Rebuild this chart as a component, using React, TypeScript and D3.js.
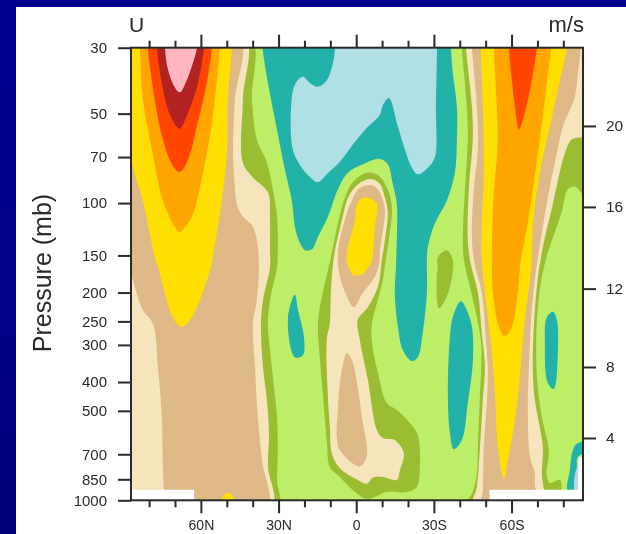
import React, { useEffect, useRef } from 'react';
import * as d3 from 'd3';

type Ring = [number, number][];

// axis values
const pressureTicks = [30, 50, 70, 100, 150, 200, 250, 300, 400, 500, 700, 850, 1000];
const latMajor = [60, 30, 0, -30, -60];
const latMinor = [80, 70, 50, 40, 20, 10, -10, -20, -40, -50, -70, -80];
const heightTicks = [4, 8, 12, 16, 20];
const heightPressure = [617, 356, 194, 103, 55]; // pressure level of each height tick

// contour regions, [latitude, pressure], lat > 0 is north.
const leftOlive: Ring = [[90, 27], [41.2, 27], [40.3, 45], [38.4, 61], [34.5, 73], [32.2, 90], [30.6, 111], [30.3, 144], [30.6, 164], [33.3, 212], [34.1, 255], [32.6, 356], [30.6, 525], [30.3, 678], [30.6, 854], [30.3, 1055], [90, 1055]];
const leftWheat: Ring = [[90, 27], [43.4, 27], [43.8, 45], [43.8, 73], [39.9, 82], [34.1, 92], [33.3, 111], [33.3, 144], [33.3, 164], [36, 212], [36.8, 255], [36, 356], [34.5, 460], [33.7, 600], [34.1, 773], [32.6, 1055], [90, 1055]];
const leftBurly: Ring = [[90, 27], [45.3, 27], [46.9, 45], [47.6, 66], [46.9, 88], [46.1, 101], [43.8, 111], [39.9, 120], [38, 140], [37.6, 164], [38.4, 212], [39.9, 255], [39.1, 356], [38, 525], [36.4, 733], [34.5, 1055], [74.3, 1055], [74.3, 923], [74.7, 773], [75.1, 525], [76.6, 356], [78.5, 255], [82.4, 229], [86.3, 181], [88.2, 155], [90, 133]];
const leftGold: Ring = [[90, 27], [88.5, 50], [86.3, 75], [82.4, 98], [77.8, 152], [76.6, 164], [70.8, 242], [67.5, 261], [63.5, 242], [56.1, 164], [55.4, 152], [51.9, 98], [49.9, 66], [49.6, 45], [48, 30], [48, 27]];
const leftOrange: Ring = [[84, 27], [83.6, 30], [82.4, 45], [78.9, 66], [74.7, 98], [69.3, 123], [68.1, 125], [63.5, 111], [59.2, 79], [55.4, 51], [52.7, 30], [52.5, 27]];
const leftRed: Ring = [[80.7, 27], [80.5, 30], [77.8, 45], [74.7, 61], [70.8, 75], [68.1, 78.6], [65, 71.5], [61.2, 53.6], [57.7, 39.4], [55.8, 30], [55.6, 27]];
const leftBrick: Ring = [[77.2, 27], [77, 30], [75.1, 39.4], [72.7, 48.5], [69.3, 55.3], [68.1, 56.2], [65, 49.7], [61.5, 40.6], [58.8, 30], [58.7, 27]];
const leftPink: Ring = [[74, 27], [73.9, 30], [72.7, 35.6], [70, 40.9], [68.1, 42.4], [65.4, 38.5], [63.1, 33.8], [61.5, 30], [61.4, 27]];
const surfaceGold: Ring = [[51.9, 1055], [51.9, 990], [49.9, 945], [48, 960], [46.9, 1055]];

const topTeal: Ring = [[36.4, 27], [36.2, 30], [34.1, 39.4], [30.6, 56.7], [27.6, 77], [24.9, 98], [23.7, 120], [21.8, 136], [19.8, 144], [17.1, 143], [14.8, 130], [10.9, 111], [7.1, 90], [3.2, 79], [-2.6, 74], [-9.1, 71], [-12.2, 74], [-14.1, 86], [-15.7, 101], [-15.7, 130], [-15.3, 168], [-14.9, 200], [-16.1, 261], [-18, 312], [-21.5, 340], [-23.8, 330], [-25.7, 273], [-27.3, 200], [-27.3, 155], [-27.7, 140], [-30.4, 117], [-35, 98], [-38.1, 79], [-38.9, 61], [-38.9, 47.4], [-37.3, 36.5], [-36.6, 30], [-36.4, 27]];
const topBlue: Ring = [[8.2, 27], [-31.2, 27], [-31.2, 30], [-30.8, 47.4], [-30.4, 70], [-27.7, 76], [-23.8, 80], [-21.5, 76], [-18.8, 66], [-16.1, 55.3], [-12.6, 44.3], [-10.3, 46.8], [-9.1, 50.5], [-4.1, 55.8], [1.3, 63.5], [6.3, 72.6], [10.9, 79.2], [14.8, 85], [17.9, 81.7], [21.8, 74.3], [24.5, 66], [25.2, 48.5], [23.7, 40], [20.6, 37.6], [17.9, 39.4], [14.8, 40.6], [11.3, 38.5], [9, 33.8], [8.2, 30]];

const centerOlive: Ring = [[10.9, 168], [9.4, 147], [7.1, 117], [4.4, 96], [1.3, 85], [-4.1, 79], [-8.4, 80.4], [-12.2, 90], [-13.8, 104], [-12.6, 133], [-11.4, 155], [-10.3, 181], [-8, 217], [-6.1, 253], [-6.1, 296], [-8.4, 373], [-11.8, 471], [-15.7, 497], [-20.7, 549], [-23.8, 603], [-24.6, 773], [-23.4, 902], [-19.6, 938], [-11.8, 938], [-4.1, 990], [1.3, 923], [6.3, 835], [10.2, 773], [11.3, 642], [12.9, 436], [14, 337], [14.8, 253], [12.9, 200]];
const centerWheat: Ring = [[8.2, 144], [5.5, 114], [3.2, 96], [-0.3, 87], [-5.3, 83], [-9.1, 86], [-11.1, 96], [-12.2, 107], [-11.1, 133], [-9.9, 155], [-8.4, 191], [-4.5, 224], [-0.6, 247], [-1.4, 289], [-4.5, 394], [-8, 580], [-10.3, 617], [-14.9, 627], [-18.4, 694], [-16.9, 791], [-15.7, 854], [-10.3, 835], [-6.4, 840], [-4.1, 880], [-0.6, 854], [6.3, 780], [9.4, 694], [10.2, 567], [11, 436], [11.4, 289], [10.2, 253], [9.8, 200], [9, 161]];
const centerBurly: Ring = [[7.1, 147], [4.4, 114], [1.7, 98], [-1.4, 89], [-6.1, 87], [-8.4, 90], [-10.3, 98], [-11.1, 107], [-9.1, 147], [-9.1, 155], [-7.2, 177], [-2.6, 200], [0.9, 224], [3.6, 206], [6.3, 177]];
const centerGold: Ring = [[3.6, 147], [0.5, 114], [-0.3, 101], [-2.6, 96], [-6.1, 97], [-8, 101], [-7.2, 120], [-6.1, 155], [-5.3, 161], [-2.2, 174], [1.3, 174], [3.6, 157]];
const lowerBurly: Ring = [[3.6, 320], [6.3, 403], [7.1, 497], [7.5, 612], [6.3, 678], [-1.4, 769], [-4.1, 705], [-2.2, 525], [-0.3, 403], [1.7, 337]];

const tealNorth: Ring = [[23.7, 203], [26.4, 245], [23.7, 330], [20.6, 325], [20.2, 282], [22.5, 229]];
const oliveSouth: Ring = [[-35, 144], [-31.5, 152], [-31.5, 168], [-31.2, 172], [-31.9, 226], [-35, 206], [-37, 177], [-37.3, 155]];
const tealSouth: Ring = [[-40.4, 214], [-37.3, 242], [-36.2, 282], [-35.4, 436], [-36.2, 594], [-37.7, 673], [-40.8, 627], [-43.1, 471], [-45.1, 337], [-44.7, 261], [-42.7, 229]];
const tealFarSouth: Ring = [[-76, 232], [-73.6, 242], [-72.9, 296], [-74, 403], [-76.3, 422], [-77.9, 320], [-77.5, 247]];

const rightOlive: Ring = [[-40.6, 27], [-40.8, 30], [-42.7, 47.4], [-43.1, 61], [-42, 90], [-41.2, 130], [-41.6, 155], [-43.9, 191], [-46.6, 242], [-48.3, 296], [-48.3, 356], [-47.7, 460], [-47, 662], [-46.6, 809], [-45, 938], [-42, 1055], [-79.4, 1055], [-79.4, 923], [-78.7, 854], [-74.8, 874], [-73.6, 820], [-74.4, 678], [-71.7, 525], [-69.8, 385], [-69.8, 247], [-71.3, 186], [-73.2, 155], [-74.8, 140], [-79.4, 107], [-81.7, 90], [-84.4, 88], [-86.8, 92], [-90.2, 103], [-90.2, 27]];
const rightWheat: Ring = [[-42.2, 27], [-42.4, 30], [-44.7, 47.4], [-45, 61], [-43.5, 90], [-43.1, 133], [-44.3, 161], [-47, 200], [-48.5, 273], [-49.7, 356], [-48.9, 460], [-47.8, 662], [-46.6, 902], [-45, 1055], [-71.7, 1055], [-71.7, 809], [-72.1, 662], [-70.9, 567], [-69, 460], [-68.2, 356], [-69, 229], [-70.1, 181], [-70.9, 161], [-72.9, 130], [-75.6, 104], [-77.9, 84], [-80.6, 68], [-83.3, 61], [-87.1, 60], [-90.2, 59], [-90.2, 27]];
const rightBurly: Ring = [[-44.5, 27], [-44.7, 30], [-46.6, 47.4], [-47, 66], [-45.4, 90], [-44.7, 133], [-45.8, 161], [-48.5, 200], [-50, 282], [-50.8, 356], [-50.5, 460], [-49.3, 662], [-48.9, 923], [-48.5, 1055], [-69, 1055], [-69, 874], [-69, 809], [-67.1, 716], [-66.3, 471], [-66.7, 356], [-67.8, 229], [-69, 181], [-69.8, 161], [-72.1, 120], [-74.8, 88], [-77.5, 68], [-79.8, 55.3], [-84.4, 44], [-85.6, 36.5], [-86.8, 30], [-87, 27]];
const rightGold: Ring = [[-48, 27], [-48.1, 30], [-48.9, 47.4], [-49.3, 79], [-48.5, 116], [-48.5, 155], [-50.5, 229], [-52.4, 320], [-53.6, 436], [-54.7, 662], [-57, 847], [-58.6, 733], [-61.3, 537], [-63.2, 385], [-64.8, 261], [-67.1, 181], [-67.8, 155], [-68.2, 120], [-70.9, 79], [-74.8, 55.3], [-78.7, 38.5], [-81.4, 30], [-81.5, 27]];
const rightOrange: Ring = [[-53.1, 27], [-53.2, 30], [-54.3, 47.4], [-54.7, 61], [-52.8, 104], [-52.4, 168], [-52.8, 200], [-54.7, 253], [-57.4, 280], [-60.1, 261], [-62.4, 200], [-63.6, 155], [-66.3, 116], [-70.9, 61], [-73.6, 39.4], [-75.2, 30], [-75.3, 27]];
const rightRed: Ring = [[-58.9, 27], [-59, 30], [-60.1, 38.5], [-62, 52.4], [-62.8, 56.7], [-65.1, 49.7], [-67.8, 38.5], [-69.8, 30], [-69.9, 27]];

const cornerTeal: Ring = [[-90.2, 640], [-85.6, 642], [-83.7, 678], [-82.5, 791], [-81.7, 923], [-84.4, 923], [-85.2, 791], [-85.6, 716], [-88, 694], [-90.2, 690]];
const cornerBlue: Ring = [[-85.2, 780], [-84.4, 923], [-85.9, 923], [-86, 780]];

// no data below the ground
const missingLeft: Ring = [[90, 921], [62.6, 921], [62.6, 1055], [90, 1055]];
const missingRight: Ring = [[-51.5, 921], [-85.6, 921], [-85.8, 716], [-90.2, 716], [-90.2, 1055], [-51.5, 1055]];

const colors = {
  green: '#bcee68', olive: '#9abd32', wheat: '#f5e4bc', burly: '#deb887', gold: '#ffdf00',
  orange: '#ffa500', red: '#ff4500', brick: '#b22222', pink: '#ffb6c1', teal: '#20b2aa', blue: '#b0e0e6',
};

const layers: [Ring, string][] = [
  [leftOlive, colors.olive], [leftWheat, colors.wheat], [leftBurly, colors.burly], [leftGold, colors.gold],
  [leftOrange, colors.orange], [leftRed, colors.red], [leftBrick, colors.brick], [leftPink, colors.pink],
  [surfaceGold, colors.gold],
  [topTeal, colors.teal], [topBlue, colors.blue],
  [centerOlive, colors.olive], [centerWheat, colors.wheat], [centerBurly, colors.burly], [centerGold, colors.gold], [lowerBurly, colors.burly],
  [tealNorth, colors.teal], [oliveSouth, colors.olive], [tealSouth, colors.teal], [tealFarSouth, colors.teal],
  [rightOlive, colors.olive], [rightWheat, colors.wheat], [rightBurly, colors.burly], [rightGold, colors.gold],
  [rightOrange, colors.orange], [rightRed, colors.red], [cornerTeal, colors.teal], [cornerBlue, '#b4d4f0'],
];

const App = () => {
  const svgRef = useRef<SVGSVGElement>(null);

  useEffect(() => {
    const root = d3.select(svgRef.current);
    root.selectAll('*').remove();

    const width = 626;
    const height = 534;
    const margin = { top: 47.7, right: 43, bottom: 33.7, left: 131 };
    const right = width - margin.right;
    const bottom = height - margin.bottom;

    const x = d3.scaleLinear().domain([87, -87.6]).range([margin.left, right]);
    const y = d3.scaleLog().domain([30, 1000]).range([margin.top, bottom]);
    const yHeight = d3.scaleLinear().domain(heightTicks).range(heightPressure.map(p => y(p)));

    const defs = root.append('defs');
    const grad = defs.append('linearGradient').attr('id', 'slide').attr('x1', 0).attr('y1', 0).attr('x2', 0).attr('y2', 1);
    grad.append('stop').attr('offset', '0%').attr('stop-color', '#00008f');
    grad.append('stop').attr('offset', '100%').attr('stop-color', '#00007c');
    defs.append('clipPath').attr('id', 'plot').append('rect')
      .attr('x', margin.left).attr('y', margin.top)
      .attr('width', right - margin.left).attr('height', bottom - margin.top);
    defs.append('filter').attr('id', 'soft').append('feGaussianBlur').attr('stdDeviation', 0.7);

    // slide background and the white panel
    root.append('rect').attr('width', width).attr('height', height).attr('fill', 'url(#slide)');
    root.append('rect').attr('x', 16).attr('y', 7).attr('width', width - 16).attr('height', height - 7).attr('fill', '#fff');

    const chart = root.append('g').attr('filter', 'url(#soft)');
    const plot = chart.append('g').attr('clip-path', 'url(#plot)');

    plot.append('rect').attr('x', margin.left).attr('y', margin.top)
      .attr('width', right - margin.left).attr('height', bottom - margin.top).attr('fill', colors.green);

    const smooth = d3.line<[number, number]>()
      .x(d => x(d[0])).y(d => y(d[1]))
      .curve(d3.curveCatmullRomClosed.alpha(0.5));
    const straight = d3.line<[number, number]>()
      .x(d => x(d[0])).y(d => y(d[1]))
      .curve(d3.curveLinearClosed);

    plot.selectAll('.band')
      .data(layers)
      .enter()
      .append('path')
      .attr('class', 'band')
      .attr('d', d => smooth(d[0]))
      .attr('fill', d => d[1]);

    plot.selectAll('.missing')
      .data([missingLeft, missingRight])
      .enter()
      .append('path')
      .attr('class', 'missing')
      .attr('d', d => straight(d))
      .attr('fill', '#fff');

    // axes
    const ink = '#2a2a2a';
    const font = '"Liberation Sans", Arial, sans-serif';
    const styleAxis = (g: any, size: number) => {
      g.select('.domain').remove();
      g.selectAll('.tick line').attr('stroke', ink).attr('stroke-width', 2);
      g.selectAll('text').attr('fill', ink).attr('font-family', font).attr('font-size', size);
    };

    styleAxis(chart.append('g')
      .attr('transform', `translate(${margin.left},0)`)
      .call(d3.axisLeft(y).tickValues(pressureTicks).tickFormat(d3.format('d')).tickSize(13).tickPadding(11)), 15);

    styleAxis(chart.append('g')
      .attr('transform', `translate(${right},0)`)
      .call(d3.axisRight(yHeight).tickValues(heightTicks).tickSize(13).tickPadding(10)), 15.5);

    const latLabel = (d: any) => (d === 0 ? '0' : `${Math.abs(d)}${d > 0 ? 'N' : 'S'}`);

    // labels sit a little higher than in the cropped original so they stay whole
    styleAxis(chart.append('g')
      .attr('transform', `translate(0,${bottom})`)
      .call(d3.axisBottom(x).tickValues(latMajor).tickFormat(latLabel).tickSize(13).tickPadding(7)), 14);
    styleAxis(chart.append('g')
      .attr('transform', `translate(0,${bottom})`)
      .call(d3.axisBottom(x).tickValues(latMinor).tickFormat(() => '').tickSize(7)), 14);
    styleAxis(chart.append('g')
      .attr('transform', `translate(0,${margin.top})`)
      .call(d3.axisTop(x).tickValues(latMajor).tickFormat(() => '').tickSize(13)), 14);
    styleAxis(chart.append('g')
      .attr('transform', `translate(0,${margin.top})`)
      .call(d3.axisTop(x).tickValues(latMinor).tickFormat(() => '').tickSize(7)), 14);

    // frame round the plot
    chart.append('rect').attr('x', margin.left).attr('y', margin.top)
      .attr('width', right - margin.left).attr('height', bottom - margin.top)
      .attr('fill', 'none').attr('stroke', ink).attr('stroke-width', 2);

    // titles
    chart.append('text').attr('x', margin.left - 2).attr('y', 32)
      .attr('font-family', font).attr('font-size', 21).attr('fill', ink).text('U');
    chart.append('text').attr('x', right + 1).attr('y', 32).attr('text-anchor', 'end')
      .attr('font-family', font).attr('font-size', 22).attr('fill', ink).text('m/s');
    chart.append('text')
      .attr('transform', 'translate(51,273) rotate(-90)')
      .attr('text-anchor', 'middle')
      .attr('font-family', font).attr('font-size', 25).attr('fill', ink).text('Pressure (mb)');
  }, []);

  return <svg ref={svgRef} width={626} height={534} style={{ position: 'absolute', left: 0, top: 0, display: 'block' }} />;
};

export default App;
